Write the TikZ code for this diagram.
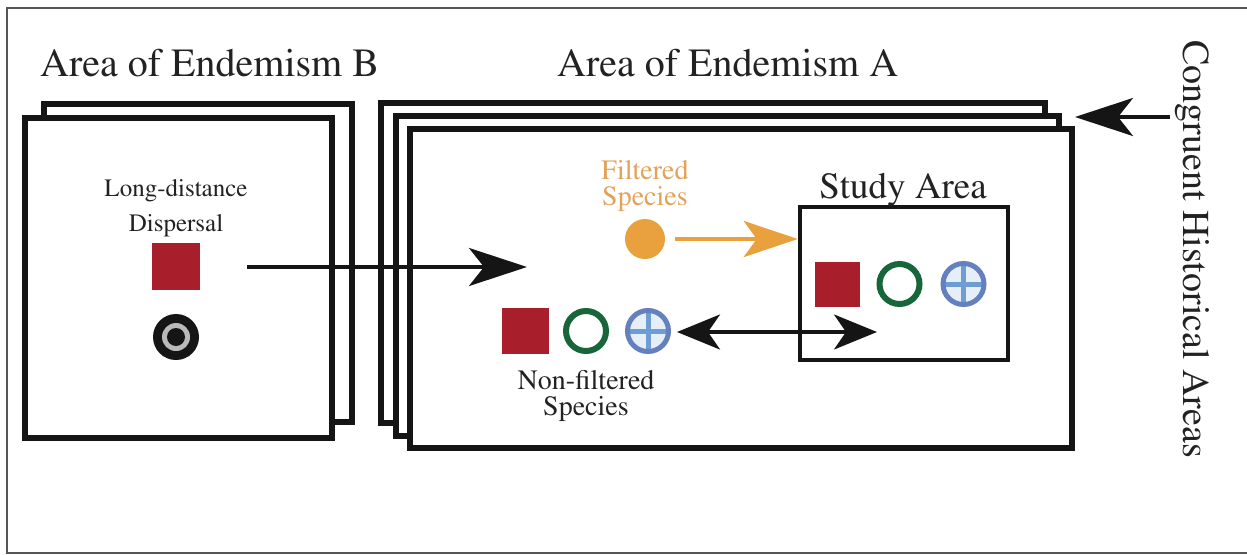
\documentclass[tikz,border=0pt]{standalone}
\usepackage[T1]{fontenc}
\usepackage{mathptmx}
\usetikzlibrary{arrows.meta}
\definecolor{boxblack}{HTML}{151515}
\definecolor{symred}{HTML}{A81F2B}
\definecolor{symgreen}{HTML}{17663A}
\definecolor{symblue}{HTML}{6580BE}
\definecolor{plusblue}{HTML}{6E9DD4}
\definecolor{innerblue}{HTML}{E6EEF8}
\definecolor{orng}{HTML}{E9A13E}
\definecolor{orngtext}{HTML}{E2A258}
\definecolor{txt}{HTML}{222222}
\definecolor{framegray}{HTML}{555555}
\begin{document}
\begin{tikzpicture}[x=1pt,y=-1pt,
  areabox/.style={draw=boxblack, fill=white, line width=6pt, inner sep=0pt, outer sep=0pt},
  studybox/.style={draw=boxblack, fill=white, line width=4.5pt, inner sep=0pt, minimum width=208pt, minimum height=153pt},
  title/.style={text=txt, font=\fontsize{40}{44}\selectfont, inner sep=0pt},
  label/.style={text=txt, font=\fontsize{25}{35}\selectfont, inner sep=0pt, align=center},
  redsq/.style={fill=symred, inner sep=0pt, minimum width=47pt, minimum height=46pt},
  greenring/.style={circle, draw=symgreen, line width=6pt, inner sep=0pt, minimum size=40pt},
  bluesym/.style={circle, draw=symblue, fill=innerblue, line width=5pt, inner sep=0pt, minimum size=41pt,
    path picture={\draw[plusblue, line width=5pt]
      (path picture bounding box.north) -- (path picture bounding box.south)
      (path picture bounding box.west) -- (path picture bounding box.east);}},
  bigarrow/.style={draw=boxblack, line width=3.5pt, -{Stealth[length=58pt, width=38pt, inset=15pt]}},
  dblarrow/.style={draw=boxblack, line width=3.5pt, {Stealth[length=43pt, width=35pt, inset=12pt]}-{Stealth[length=43pt, width=35pt, inset=12pt]}},
  orngarrow/.style={draw=orng, line width=4pt, -{Stealth[length=54pt, width=36pt, inset=13pt]}}
]
\useasboundingbox (0,0) rectangle (1247,554);
\fill[white] (0,0) rectangle (1247,554);
% outer frame
\draw[framegray, line width=1.6pt] (1247,8) -- (7,8) -- (7,553) -- (1247,553);

% titles
\node[title, anchor=base west] (tB) at (40,76) {Area of Endemism B};
\node[title, anchor=base west] (tA) at (557,76) {Area of Endemism A};

% Area B boxes
\node[areabox, minimum width=308pt, minimum height=318pt] (Bback) at (198,263) {};
\node[areabox, minimum width=307pt, minimum height=320pt] (Bfront) at (178.5,278) {};

% Area A boxes
\node[areabox, minimum width=664pt, minimum height=320pt] (A1) at (713,263) {};
\node[areabox, minimum width=663pt, minimum height=320pt] (A2) at (727.5,276) {};
\node[areabox, minimum width=662pt, minimum height=319pt] (A3) at (741,288.5) {};

% Study area
\node[studybox] (sa) at (904,283.5) {};
\node[title, font=\fontsize{37}{40}\selectfont, anchor=base] (saT) at (903,198) {Study Area};

% Area B contents
\node[label] (ldd) at (176,208.5) {Long-distance\\Dispersal};
\node[redsq, minimum width=48pt, minimum height=47pt] (Bred) at (176,266.5) {};
\node[circle, fill=boxblack, inner sep=0pt, minimum size=46pt,
  path picture={\fill[gray!55] (path picture bounding box.center) circle[radius=14pt];
                \fill[boxblack] (path picture bounding box.center) circle[radius=9pt];}] (Btarget) at (176,337) {};

% filtered species
\node[label, text=orngtext, font=\fontsize{28}{26}\selectfont] (fs) at (645,186) {Filtered\\Species};
\node[circle, fill=orng, inner sep=0pt, minimum size=40pt] (fdot) at (645,239) {};

% non-filtered species
\node[redsq] (nfr) at (525.5,331) {};
\node[greenring] (nfg) at (586,331) {};
\node[bluesym] (nfb) at (648,331) {};
\node[label, font=\fontsize{28}{26}\selectfont] (nfs) at (586,396) {Non-filtered\\Species};

% study area species
\node[redsq, minimum width=45pt, minimum height=45pt] (sar) at (837,284.5) {};
\node[greenring] (sag) at (899.5,284) {};
\node[bluesym] (sab) at (963.5,284) {};

% congruent label
\node[title, font=\fontsize{38}{40}\selectfont, rotate=-90, anchor=base west] (cha) at (1183,40) {Congruent Historical Areas};

% arrows
\coordinate (ldS) at (247,267);
\coordinate (ldE) at (527,267);
\draw[bigarrow] (ldS) -- (ldE);

\draw[orngarrow, shorten <=10pt] (fdot.east) -- (sa.west |- fdot.east);

\coordinate (dL) at (677,332);
\coordinate (dR) at (877,332);
\draw[dblarrow] (dL) -- (dR);

\coordinate (chS) at (1170,117);
\coordinate (chE) at (1075,117);
\draw[bigarrow] (chS) -- (chE);
\end{tikzpicture}
\end{document}
